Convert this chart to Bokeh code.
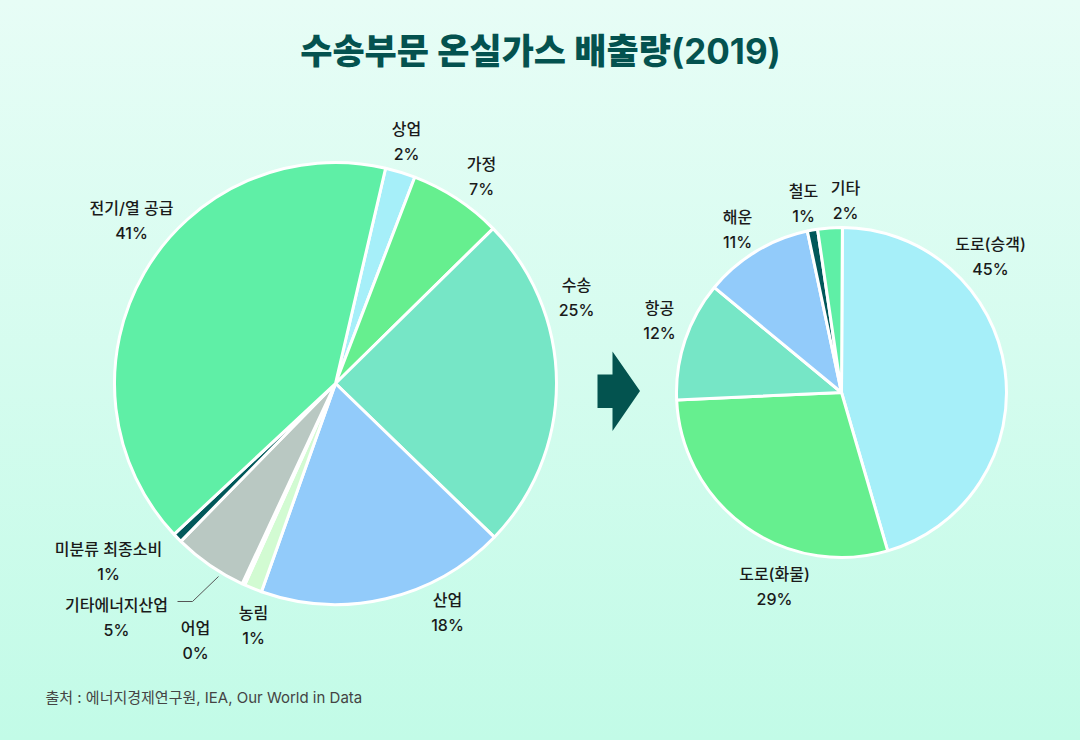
import numpy as np
from bokeh.plotting import figure
from bokeh.models import Range1d, ColumnDataSource, GlobalInlineStyleSheet
from bokeh.core.properties import value
from bokeh.embed import file_html
from bokeh.resources import INLINE

# ---------------- data ----------------
title_text = "수송부문 온실가스 배출량(2019)"
source_text = "출처 : 에너지경제연구원, IEA, Our World in Data"

left_names = ["상업", "가정", "수송", "산업", "농림", "어업", "기타에너지산업", "미분류 최종소비", "전기/열 공급"]
left_values = [2.2, 6.8, 24.6, 18.2, 1.3, 0.2, 5.4, 0.7, 40.6]
left_colors = ["#a6eff9", "#66ef8f", "#76e6c6", "#92cbfa", "#d2fbd2", "#c8f0e0", "#b9c8c2", "#01585a", "#5fefa6"]

right_names = ["도로(승객)", "도로(화물)", "항공", "해운", "철도", "기타"]
right_values = [45.4, 28.8, 11.7, 10.7, 1.0, 2.4]
right_colors = ["#a6eff9", "#66ef8f", "#76e6c6", "#92cbfa", "#01585a", "#5fefa6"]

# ---------------- layout (screen pixels) ----------------
W, H = 1064, 724
LEFT_C, LEFT_R, LEFT_START = (335, 383), 221, 13.1
RIGHT_C, RIGHT_R, RIGHT_START = (841, 392), 165, 0.3
left_label_off = [(71, -242), (146, -207), (241, -86), (112, 229), (-82, 242),
                  (-140, 257), (-219, 234), (-227, 178), (-204, -163)]
right_label_off = [(149, -136), (-67, 194), (-182, -72), (-104, -163), (-38, -189), (4, -192)]

FONT = "Inter, Noto Sans CJK KR"
FONT_MED = "Inter Medium, Noto Sans CJK KR Medium, Noto Sans CJK KR"
FONT_TITLE = "Inter, Noto Sans CJK KR Black, Noto Sans CJK KR"


def sy(y):
    # screen y -> data y
    return 740 - y


p = figure(width=W, height=H, output_backend="svg", toolbar_location=None,
           x_range=Range1d(0, W), y_range=Range1d(740 - H, 740),
           min_border=0, outline_line_color=None,
           background_fill_alpha=0, border_fill_alpha=0)
p.axis.visible = False
p.xgrid.visible = False
p.ygrid.visible = False
p.stylesheets = [GlobalInlineStyleSheet(css="html{min-height:100%;background:linear-gradient(180deg,#e7fdf6 0%,#c2fbe7 100%);} body{background:transparent;}")]


def draw_pie(center, r, start_deg, names, values, colors, offsets):
    vals = np.array(values, dtype=float)
    frac = vals / vals.sum()
    cum = np.concatenate([[0.0], np.cumsum(frac)])
    a0 = start_deg + cum[:-1] * 360.0
    a1 = start_deg + cum[1:] * 360.0
    src = ColumnDataSource(dict(
        x=[center[0]] * len(vals), y=[sy(center[1])] * len(vals),
        start=np.radians(90 - a1), end=np.radians(90 - a0), color=colors))
    p.wedge(x="x", y="y", radius=r, start_angle="start", end_angle="end",
            fill_color="color", line_color="white", line_width=3, source=src)
    lx = [center[0] + o[0] for o in offsets]
    ly = [sy(center[1] + o[1]) for o in offsets]
    pct = [f"{round(v)}%" for v in values]
    p.text(x=lx, y=[v + 12.5 for v in ly], text=names, text_align="center", text_baseline="middle",
           text_font=value(FONT_MED), text_font_size="16px", text_color="#1a1a1a")
    p.text(x=lx, y=[v - 12.5 for v in ly], text=pct, text_align="center", text_baseline="middle",
           text_font=value(FONT_MED), text_font_size="16px", text_color="#1a1a1a")


draw_pie(LEFT_C, LEFT_R, LEFT_START, left_names, left_values, left_colors, left_label_off)
draw_pie(RIGHT_C, RIGHT_R, RIGHT_START, right_names, right_values, right_colors, right_label_off)

# leader line for 기타에너지산업
p.line(x=[177, 192, 218], y=[sy(601), sy(601), sy(576)], line_color="#555555", line_width=1)

# arrow
p.patch(x=[597, 612, 612, 639.5, 612, 612, 597],
        y=[sy(374), sy(374), sy(351), sy(390.5), sy(430.5), sy(407.5), sy(407.5)],
        fill_color="#03534f", line_color=None)

# title
p.text(x=[540], y=[sy(50)], text=[title_text], text_align="center", text_baseline="middle",
       text_font=value(FONT_TITLE), text_font_style="bold", text_font_size="35px", text_color="#04524f")

# source
p.text(x=[45], y=[sy(697)], text=[source_text], text_align="left", text_baseline="middle",
       text_font=value(FONT), text_font_size="15px", text_color="#444444")

open("out.html", "w").write(file_html(p, INLINE))
